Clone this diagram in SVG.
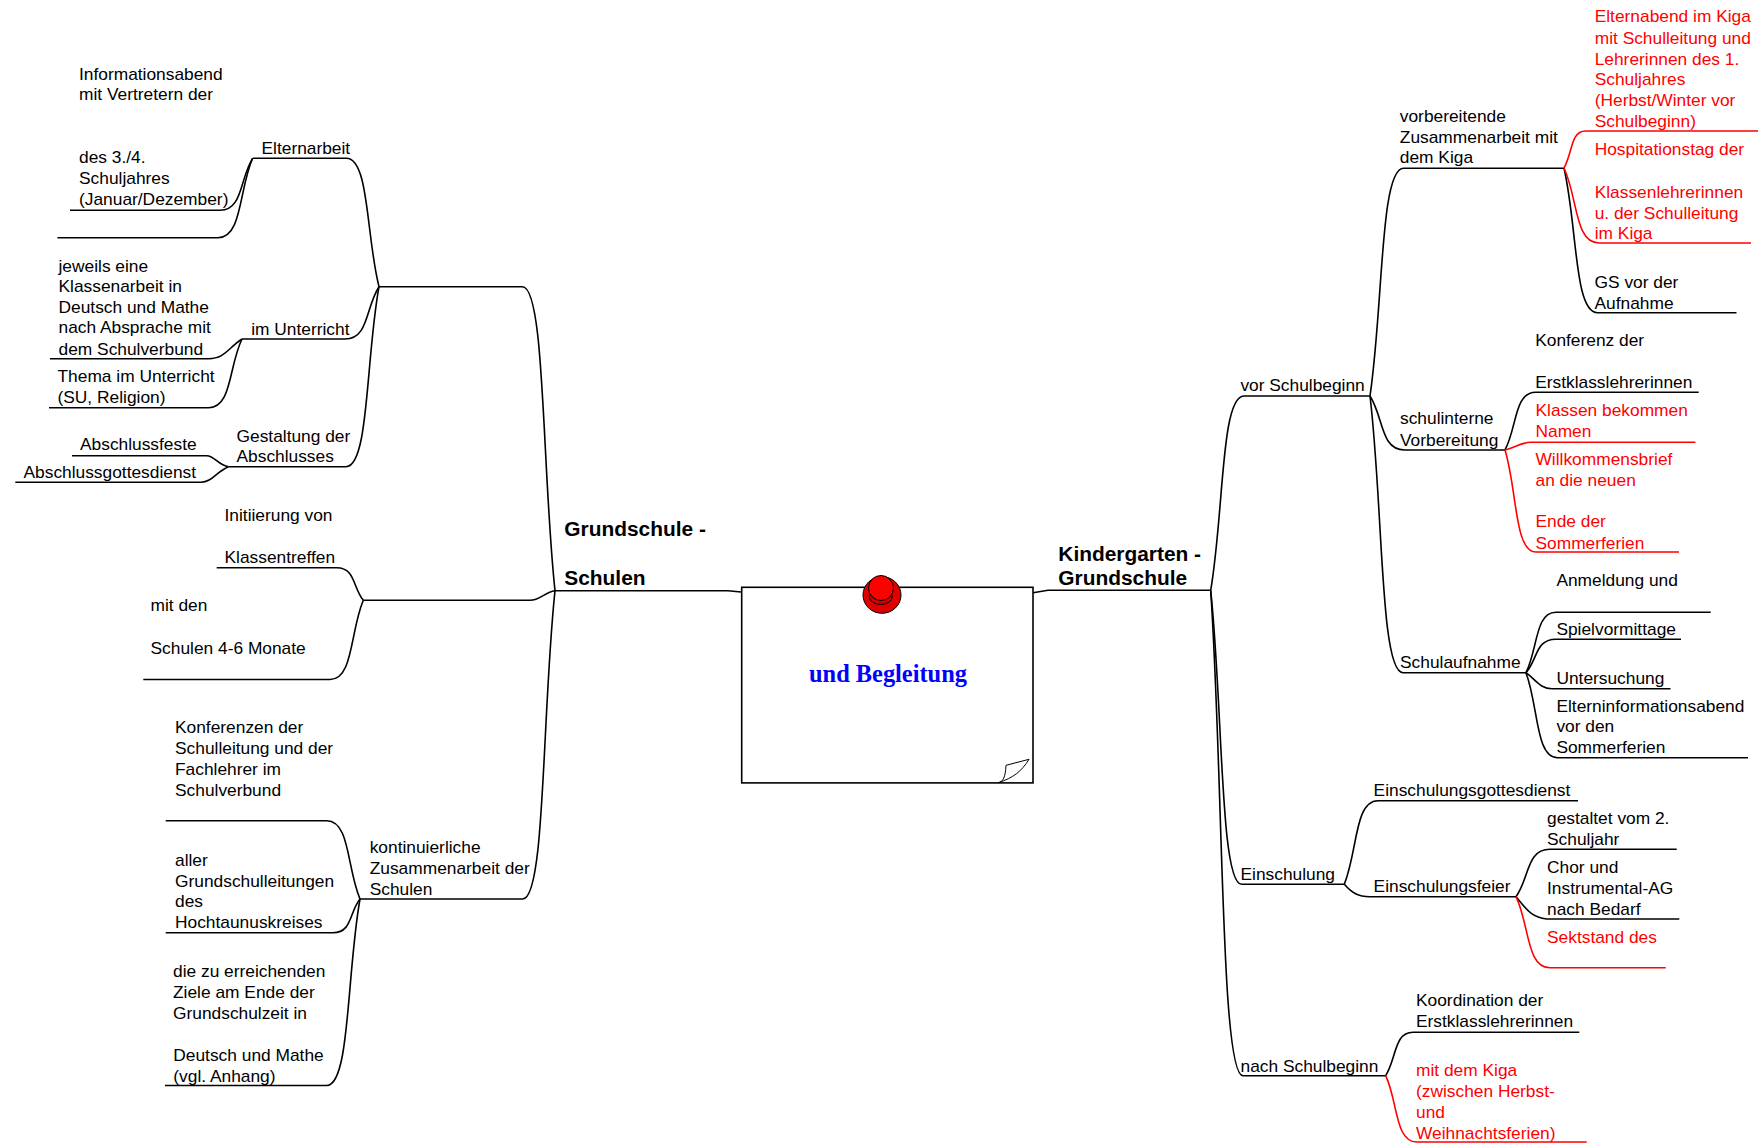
<svg xmlns="http://www.w3.org/2000/svg" width="1758" height="1143" viewBox="0 0 1758 1143">
<style>
text{font-family:"Liberation Sans",Arial,sans-serif;font-size:17.35px;fill:#000}
.r{fill:#f00}
.b{font-weight:700;font-size:20.9px}
.c{font-family:"Liberation Serif","Times New Roman",serif;font-weight:700;font-size:24.4px;fill:#00f}
#connectors path{fill:none;stroke:#000;stroke-width:1.6}
#connectors .red path{stroke:#f00}
</style>
<rect width="1758" height="1143" fill="#fff"/>
<g id="connectors">
<path d="M728,590.7H555M728,590.7L741,592"/>
<path d="M1033,592.7L1048,590.3H1210.7"/>
<path d="M379,286.7H522.4C545.2,286.7 542,469 555,590.7"/>
<path d="M363.3,600.3H530C540,600.3 545,592 555,590.7"/>
<path d="M360,899H522.7C545.3,899 542,714 555,590.7"/>
<path d="M253,158.3H346.3C369.2,158.3 366,235.3 379,286.7"/>
<path d="M242,339H345C368.8,339 365.4,307.6 379,286.7"/>
<path d="M228.5,466.7H346C369,466.7 365.8,358.7 379,286.7"/>
<path d="M70,210.3H220C242.8,210.3 239.6,179.1 252.6,158.3"/>
<path d="M57.4,237.7H218C242.2,237.7 238.8,190 252.6,158.3"/>
<path d="M50,358.7H208.6C225,358.7 228,348 242,339"/>
<path d="M49,407.7H208.6C232,407.7 228.6,366.5 242,339"/>
<path d="M72,455.7H206.7C215,456 218,465 228.5,466.7"/>
<path d="M15.3,482.3H201C212,482 216,472 228.5,466.7"/>
<path d="M216.7,567.7H336.7C355.3,567.7 352.7,587.3 363.3,600.3"/>
<path d="M143.3,679.5H330C353.3,679.5 350,632 363.3,600.3"/>
<path d="M165.7,820.7H326.7C350,820.7 346.7,867.7 360,899"/>
<path d="M165.7,932.8H333C352,932.8 349.2,912.5 360,899"/>
<path d="M165,1085.5H326.7C350,1085.5 346.7,973.6 360,899"/>
<path d="M1369.5,396H1244C1220.7,396 1224,512.6 1210.7,590.3"/>
<path d="M1344.3,884.3H1241.7C1220,884.3 1223,707.9 1210.7,590.3"/>
<path d="M1385.7,1075.7H1243C1220.4,1075.7 1223.6,784.5 1210.7,590.3"/>
<path d="M1564,168.3H1403.6C1380,168.3 1383.4,304.9 1370,396"/>
<path d="M1505,450H1404.6C1380.4,450 1383.8,417.6 1370,396"/>
<path d="M1526,672.7H1403C1380,672.7 1383.2,506.6 1370,396"/>
<path d="M1736.5,312.7H1597.5C1574,312.7 1577.4,225.9 1564,168.3"/>
<path d="M1698.7,392.3H1535.7C1514,392.3 1517.3,427 1505,450"/>
<path d="M1710.7,612.3H1556C1535,612.3 1538,648.5 1526,672.7"/>
<path d="M1681,639.3H1556C1535,639.3 1538,659.3 1526,672.7"/>
<path d="M1670.5,688.7H1552C1540,688.7 1536,680 1526,672.7"/>
<path d="M1748,757.7H1557.6C1535.5,757.7 1538.6,706.7 1526,672.7"/>
<path d="M1578,800.7H1378C1354.4,800.7 1357.8,850.9 1344.3,884.3"/>
<path d="M1516,896.7H1370C1358,896.7 1352,893 1344.3,884.3"/>
<path d="M1676.7,849.3H1550C1526.2,849.3 1529.6,877.7 1516,896.7"/>
<path d="M1679.3,919H1546.7C1530,917 1526,908 1516,896.7"/>
<path d="M1579.3,1032.3H1413C1394,1032.3 1396.6,1058.3 1385.7,1075.7"/>
<g class="red">
<path d="M1758,131H1585.5C1570.5,131 1572.6,153.2 1564,168"/>
<path d="M1751,243H1599C1574.5,243 1578,198 1564,168"/>
<path d="M1695.4,442.3H1531C1520,442.5 1515,448 1505,450"/>
<path d="M1679,552H1536C1514.3,552 1517.4,491 1505,450"/>
<path d="M1665.7,967.7H1550C1526.2,967.7 1529.6,925 1516,896.7"/>
<path d="M1586.7,1142H1416.7C1395,1142 1398,1102 1385.7,1075.7"/>
</g>
</g>
<g id="root">
<rect x="741.7" y="587.3" width="291.3" height="195.6" fill="#fff" stroke="#000" stroke-width="1.6"/>
<path d="M998.3,782.7C1003,782 1005.5,777 1006,765.3L1029,759.3C1021.5,771.5 1013,778 998.3,782.7Z" fill="#fff" stroke="#000" stroke-width="1"/>
<ellipse cx="882" cy="595" rx="19" ry="18.3" fill="#e00000" stroke="#000" stroke-width="1"/>
<ellipse cx="880.8" cy="596.5" rx="11.5" ry="8" fill="#d00000" stroke="#000" stroke-width="1"/>
<circle cx="881" cy="588" r="12.5" fill="#f00" stroke="#000" stroke-width="1"/>
<text class="c" x="809" y="682">und Begleitung</text>
</g>
<g id="n-grundschule"><text class="b" x="564.3" y="536">Grundschule -</text><text class="b" x="564.3" y="585">Schulen</text></g>
<g id="n-kindergarten"><text class="b" x="1058.3" y="561">Kindergarten -</text><text class="b" x="1058.3" y="585">Grundschule</text></g>
<g id="n-info"><text x="79" y="80">Informationsabend</text><text x="79" y="100.3">mit Vertretern der</text></g>
<g id="n-des34"><text x="79" y="163">des 3./4.</text><text x="79" y="184">Schuljahres</text><text x="79" y="204.5">(Januar/Dezember)</text></g>
<g id="n-elternarbeit"><text x="261.5" y="154">Elternarbeit</text></g>
<g id="n-jeweils"><text x="58.5" y="271.5">jeweils eine</text><text x="58.5" y="292">Klassenarbeit in</text><text x="58.5" y="313">Deutsch und Mathe</text><text x="58.5" y="333">nach Absprache mit</text><text x="58.5" y="355">dem Schulverbund</text></g>
<g id="n-thema"><text x="57.5" y="381.6">Thema im Unterricht</text><text x="57.5" y="403">(SU, Religion)</text></g>
<g id="n-unterricht"><text x="251.2" y="335">im Unterricht</text></g>
<g id="n-gestaltung"><text x="236.5" y="441.5">Gestaltung der</text><text x="236.5" y="462">Abschlusses</text></g>
<g id="n-feste"><text x="80" y="450">Abschlussfeste</text></g>
<g id="n-gottesdienst"><text x="23.5" y="478">Abschlussgottesdienst</text></g>
<g id="n-initiierung"><text x="224.5" y="521">Initiierung von</text><text x="224.5" y="562.7">Klassentreffen</text></g>
<g id="n-mitden"><text x="150.5" y="611">mit den</text><text x="150.5" y="653.8">Schulen 4-6 Monate</text></g>
<g id="n-konferenzen"><text x="175" y="732.5">Konferenzen der</text><text x="175" y="754">Schulleitung und der</text><text x="175" y="774.6">Fachlehrer im</text><text x="175" y="796">Schulverbund</text></g>
<g id="n-aller"><text x="175" y="865.5">aller</text><text x="175" y="887">Grundschulleitungen</text><text x="175" y="907.3">des</text><text x="175" y="927.8">Hochtaunuskreises</text></g>
<g id="n-ziele"><text x="173" y="977">die zu erreichenden</text><text x="173" y="997.7">Ziele am Ende der</text><text x="173" y="1019.2">Grundschulzeit in</text><text x="173.3" y="1061">Deutsch und Mathe</text><text x="173.3" y="1082">(vgl. Anhang)</text></g>
<g id="n-kontinuierlich"><text x="369.7" y="853">kontinuierliche</text><text x="369.7" y="874">Zusammenarbeit der</text><text x="369.7" y="894.5">Schulen</text></g>
<g id="n-vor"><text x="1240.4" y="391.2">vor Schulbeginn</text></g>
<g id="n-vorbereitende"><text x="1399.8" y="122.3">vorbereitende</text><text x="1399.8" y="143.3">Zusammenarbeit mit</text><text x="1399.8" y="163.3">dem Kiga</text></g>
<g id="n-elternabend"><text class="r" x="1594.7" y="22.2">Elternabend im Kiga</text><text class="r" x="1594.7" y="44">mit Schulleitung und</text><text class="r" x="1594.7" y="64.5">Lehrerinnen des 1.</text><text class="r" x="1594.7" y="85">Schuljahres</text><text class="r" x="1594.7" y="106.3">(Herbst/Winter vor</text><text class="r" x="1594.7" y="127">Schulbeginn)</text></g>
<g id="n-hospitation"><text class="r" x="1594.7" y="155.2">Hospitationstag der</text><text class="r" x="1594.7" y="197.7">Klassenlehrerinnen</text><text class="r" x="1594.7" y="219">u. der Schulleitung</text><text class="r" x="1594.7" y="239.3">im Kiga</text></g>
<g id="n-gs"><text x="1594.5" y="287.5">GS vor der</text><text x="1594.5" y="309">Aufnahme</text></g>
<g id="n-konferenz"><text x="1535.2" y="346">Konferenz der</text><text x="1535.2" y="388.3">Erstklasslehrerinnen</text></g>
<g id="n-schulintern"><text x="1400" y="424.3">schulinterne</text><text x="1400" y="445.7">Vorbereitung</text></g>
<g id="n-klassen"><text class="r" x="1535.5" y="416">Klassen bekommen</text><text class="r" x="1535.5" y="436.7">Namen</text></g>
<g id="n-willkommen"><text class="r" x="1535.5" y="465">Willkommensbrief</text><text class="r" x="1535.5" y="486">an die neuen</text><text class="r" x="1535.5" y="526.7">Ende der</text><text class="r" x="1535.5" y="549.2">Sommerferien</text></g>
<g id="n-anmeldung"><text x="1556.4" y="586">Anmeldung und</text></g>
<g id="n-spiel"><text x="1556.4" y="635">Spielvormittage</text></g>
<g id="n-untersuchung"><text x="1556.4" y="684.3">Untersuchung</text></g>
<g id="n-elterninfo"><text x="1556.4" y="711.5">Elterninformationsabend</text><text x="1556.4" y="732.3">vor den</text><text x="1556.4" y="753.3">Sommerferien</text></g>
<g id="n-schulaufnahme"><text x="1400" y="668">Schulaufnahme</text></g>
<g id="n-einschulung"><text x="1240.5" y="880.3">Einschulung</text></g>
<g id="n-esgd"><text x="1373.6" y="796">Einschulungsgottesdienst</text></g>
<g id="n-feier"><text x="1373.6" y="891.7">Einschulungsfeier</text></g>
<g id="n-gestaltet"><text x="1547" y="824">gestaltet vom 2.</text><text x="1547" y="845">Schuljahr</text></g>
<g id="n-chor"><text x="1547" y="873.3">Chor und</text><text x="1547" y="894.3">Instrumental-AG</text><text x="1547" y="915">nach Bedarf</text></g>
<g id="n-sekt"><text class="r" x="1547" y="942.5">Sektstand des</text></g>
<g id="n-nach"><text x="1240.5" y="1071.7">nach Schulbeginn</text></g>
<g id="n-koordination"><text x="1416" y="1006">Koordination der</text><text x="1416" y="1027.3">Erstklasslehrerinnen</text></g>
<g id="n-mitkiga"><text class="r" x="1416" y="1076">mit dem Kiga</text><text class="r" x="1416" y="1097.3">(zwischen Herbst-</text><text class="r" x="1416" y="1118.3">und</text><text class="r" x="1416" y="1139">Weihnachtsferien)</text></g>
</svg>
